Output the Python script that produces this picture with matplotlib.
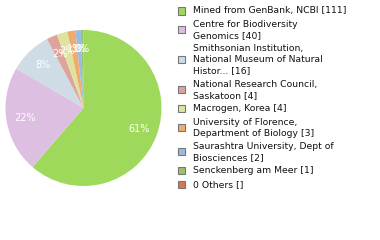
import math
import matplotlib
matplotlib.use('Agg')
import matplotlib.pyplot as plt
from matplotlib.patches import Rectangle

# dane
labels = ['Mined from GenBank, NCBI [111]',
          'Centre for Biodiversity\nGenomics [40]',
          'Smithsonian Institution,\nNational Museum of Natural\nHistor... [16]',
          'National Research Council,\nSaskatoon [4]',
          'Macrogen, Korea [4]',
          'University of Florence,\nDepartment of Biology [3]',
          'Saurashtra University, Dept of\nBiosciences [2]',
          'Senckenberg am Meer [1]',
          '0 Others []']
values = [111, 40, 16, 4, 4, 3, 2, 1, 0]
colors = ['#9fd95b', '#dcbfe1', '#cfdbe5', '#dea39b', '#dfe3a0',
          '#f0ab6e', '#9bbbe0', '#9ac26d', '#dc7353']

sl = [(v, c) for v, c in zip(values, colors) if v > 0]

W, H = 380, 240
fig = plt.figure(figsize=(3.8, 2.4), dpi=100)
ax = fig.add_axes([5.5 / W, (H - 108 - 78) / H, 156 / W, 156 / H])

def pct(p):
    return '%d%%' % math.floor(p + 1e-9)

wedges, texts, autotexts = ax.pie([v for v, c in sl], colors=[c for v, c in sl],
                                  startangle=90, counterclock=False,
                                  autopct=pct, pctdistance=0.76,
                                  wedgeprops={'linewidth': 0})
for t in autotexts:
    t.set_color('white')
    t.set_fontsize(7)
ax.set_xlim(-1, 1)
ax.set_ylim(-1, 1)
ax.axis('off')

# legenda recznie - kazda linia osobno
y = 11
krok = 11.0      # odstep linii w jednym wpisie
przerwa = 13.4   # odstep miedzy wpisami
for lab, c in zip(labels, colors):
    linie = lab.split('\n')
    ys = []
    for l in linie:
        fig.text(193 / W, 1 - y / H, l, fontsize=6.7, va='center', ha='left', color='#111111')
        ys.append(y)
        y += krok
    y += przerwa - krok
    yc = sum(ys) / len(ys)
    fig.patches.append(Rectangle((178 / W, 1 - (yc + 3.5) / H), 7 / W, 7 / H,
                                 transform=fig.transFigure, facecolor=c,
                                 edgecolor='#777777', linewidth=0.8))

plt.savefig('out.png', dpi=100)
